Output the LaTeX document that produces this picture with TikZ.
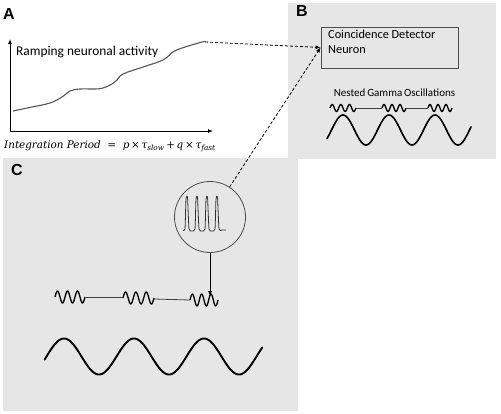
\documentclass[tikz,border=0pt]{standalone}
\usepackage{fontspec}
\setmainfont{Carlito}
\newfontfamily\labfont{Liberation Sans}
\newfontfamily\eqfont{DejaVu Serif}
\usetikzlibrary{arrows.meta}
\definecolor{panelgray}{RGB}{231,230,230}
\definecolor{curvegray}{RGB}{85,85,85}
\tikzset{
  panel/.style={fill=panelgray, draw=none},
  panellabel/.style={font=\labfont\bfseries\fontsize{16}{16}\selectfont, inner sep=0pt},
  txt/.style={font=\fontsize{12.3}{15}\selectfont, inner sep=0pt},
  dashlink/.style={densely dashed, line width=0.8pt, -{Latex[length=5pt,width=4pt]}},
  axis/.style={line width=0.9pt, -{Latex[length=5pt,width=4pt]}},
  thinlink/.style={line width=0.8pt, draw=black!75},
  gammaw/.style={line width=1.3pt, line join=round},
  slowwave/.style={line width=1.6pt, line cap=round}
}
\begin{document}
\begin{tikzpicture}[x=1pt,y=-1pt]
\useasboundingbox (0,0) rectangle (501,413);
\fill[white] (0,0) rectangle (501,413);
% panels
\fill[panel] (288,3) rectangle (496,159);
\fill[panel] (3,158) rectangle (298,411);
\node[panellabel] (labA) at (9,14) {A};
\node[panellabel] (labB) at (302,11) {B};
\node[panellabel] (labC) at (17,170) {C};

% Panel A
\coordinate (orig) at (10,131);
\coordinate (ytop) at (10,39);
\coordinate (xend) at (213,131);
\draw[axis] (orig) -- (ytop);
\draw[axis] (orig) -- (xend);
\node[inner sep=0pt, anchor=west, font=\fontsize{13.4}{15}\selectfont] (ramp) at (16,52) {Ramping neuronal activity};
\draw[line width=1.1pt, curvegray] plot[smooth, tension=0.6] coordinates {
 (13,111) (32,107) (50,103) (62,97) (70,91) (80,89) (95,89) (103,88)
 (112,84) (117,80) (123,74) (143,67) (163,60) (173,52) (182,48) (202,42) (205,42)};
\coordinate (rampend) at (205,42);
\node[inner sep=0pt, anchor=west] (eq) at (4,146)
 {\eqfont\fontsize{10.4}{12}\selectfont\itshape Integration Period\ \ {\upshape=}\ \ p\,{\upshape×}\,τ\textsubscript{slow}\,{\upshape+}\,q\,{\upshape×}\,τ\textsubscript{fast}};

% Panel B
\node[draw=black!70, line width=0.8pt, minimum width=137pt, minimum height=41pt,
      inner sep=0pt] (det) at (389.5,47.5) {};
\node[txt, anchor=north west, align=left] (dettext) at (328,30) {Coincidence Detector\\Neuron};
\node[inner sep=0pt, font=\fontsize{11}{12}\selectfont] (nested) at (394.5,93) {Nested\,Gamma\,Oscillations};
% nested gamma in B
\draw[gammaw] plot[domain=0:1080, samples=60] ({330+\x/1080*26},{108-3.5*sin(\x)});
\draw[gammaw] plot[domain=0:1080, samples=60] ({382+\x/1080*24},{108-3.5*sin(\x)});
\draw[gammaw] plot[domain=0:1080, samples=60] ({428+\x/1080*24},{108-3.5*sin(\x)});
\coordinate (bg1e) at (356,108); \coordinate (bg2s) at (382,108);
\coordinate (bg2e) at (406,108); \coordinate (bg3s) at (428,108);
\draw[thinlink] (bg1e) -- (bg2s);
\draw[thinlink] (bg2e) -- (bg3s);
% slow wave B
\draw[slowwave] plot[domain=-35:1092, samples=150] ({343+(\x-90)/360*46},{130-15*sin(\x)});

% Panel C
\node[draw=black!70, line width=0.8pt, circle, minimum size=71pt, inner sep=0pt] (circ) at (210,217) {};
\draw[line width=0.8pt, black!80, line join=round] plot[smooth, tension=0.3] coordinates {
 (183,230) (185,229) (186,199) (187.5,197) (189,229) (192,231)
 (195,229) (196,199) (197.5,197) (199,229) (202,231)
 (205,229) (206,199) (207.5,197) (209,229) (212,231)
 (215,229) (216,199) (217.5,197) (219,229) (222,230) (226,230)};
% gamma wavelets C
\draw[gammaw] plot[domain=0:1080, samples=60] ({55+\x/1080*30},{297-6*sin(\x)});
\draw[gammaw] plot[domain=0:1080, samples=60] ({123+\x/1080*31},{298-6*sin(\x)});
\draw[gammaw] plot[domain=0:1080, samples=60] ({190+\x/1080*28},{300-6*sin(\x)});
\coordinate (cg1e) at (85,297); \coordinate (cg2s) at (123,297);
\coordinate (cg2e) at (154,299); \coordinate (cg3s) at (190,300);
\coordinate (cg3tip) at (210,296);
\draw[thinlink] (cg1e) -- (cg2s);
\draw[thinlink] (cg2e) -- (cg3s);
\draw[line width=0.8pt, -{Latex[length=5pt,width=4pt]}] (circ.south) -- (cg3tip);
% slow wave C
\draw[slowwave, line width=1.9pt] plot[domain=-10:1110, samples=180] ({64+(\x-90)/360*70},{356.5-18*sin(\x)});

% dashed connectors
\draw[dashlink] (rampend) -- (det.west);
\draw[dashlink] (circ) -- (det.west);
\end{tikzpicture}
\end{document}
